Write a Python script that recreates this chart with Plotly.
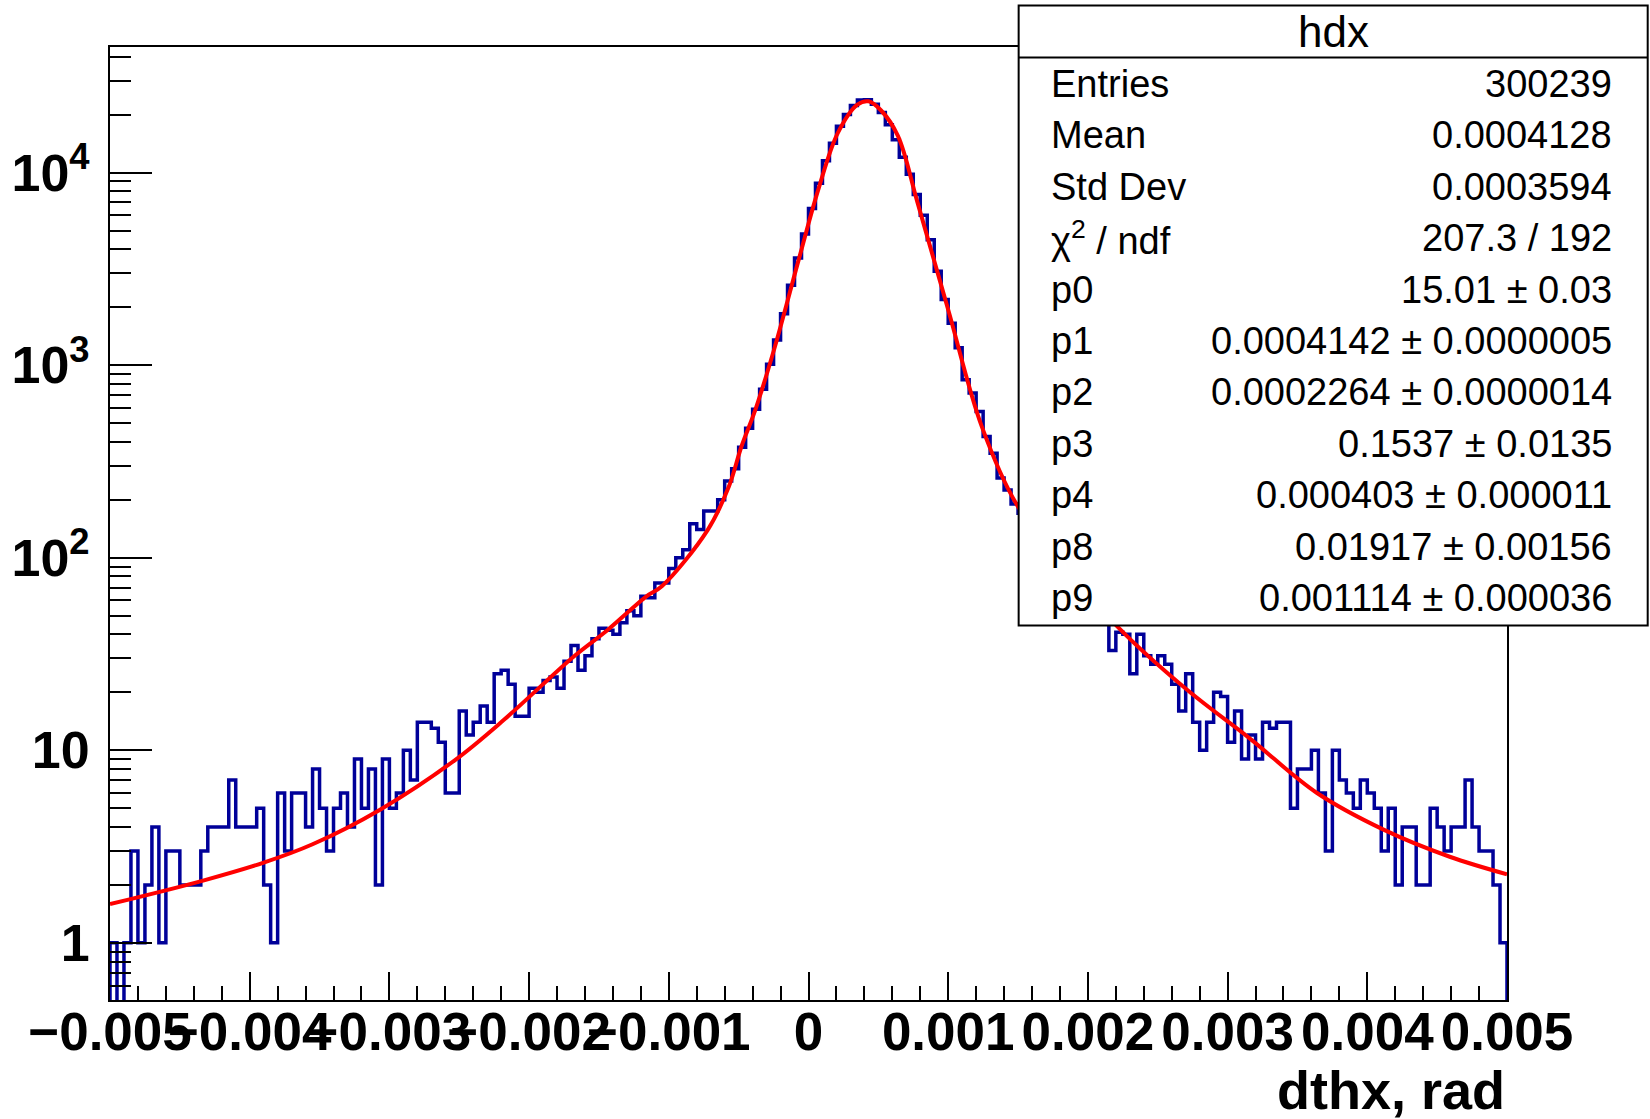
import numpy as np
import plotly.graph_objects as go

# ---------------- data ----------------
x_lo, x_hi, n_bins = -0.005, 0.005, 200

counts = [
    1, 0, 1, 3, 1, 2, 4, 1, 3, 3,
    2, 2, 2, 3, 4, 4, 4, 7, 4, 4,
    4, 5, 2, 1, 6, 3, 6, 6, 4, 8,
    5, 3, 5, 6, 4, 9, 5, 8, 2, 9,
    5, 6, 10, 7, 14, 14, 13, 11, 6, 6,
    16, 12, 14, 17, 14, 25, 26, 22, 15, 15,
    21, 20, 23, 24, 21, 29, 35, 26, 31, 38,
    43, 42, 40, 46, 53, 50, 63, 62, 74, 74,
    88, 100, 110, 150, 140, 175, 175, 200, 250, 290,
    375, 470, 590, 750, 1010, 1350, 1850, 2600, 3600, 4800,
    6500, 8800, 11500, 14200, 17400, 20000, 22300, 23800, 23900, 22600,
    20500, 17700, 14800, 12000, 9800, 7700, 6000, 4480, 3070, 2190,
    1650, 1230, 840, 716, 575, 426, 349, 259, 225, 190,
    170, 150, 135, 120, 108, 97, 88, 80, 72, 65,
    58, 52, 47, 33, 41, 40, 25, 40, 31, 28,
    31, 28, 22, 16, 25, 14, 10, 14, 20, 19,
    11, 16, 9, 12, 9, 14, 13, 14, 14, 5,
    8, 8, 10, 6, 3, 10, 7, 6, 5, 7,
    6, 5, 3, 5, 2, 4, 4, 2, 2, 5,
    4, 3, 4, 4, 7, 4, 3, 3, 2, 1,
]

fit_x = [-0.005, -0.00434, -0.0039, -0.00355, -0.00307, -0.00253, -0.00218,
         -0.00168, -0.00144, -0.00116, -0.00105, -0.00072, -0.00057, -0.00048,
         -0.00038, -0.00024, -0.00007, 0.00007, 0.00021, 0.00035, 0.00043,
         0.00052, 0.00064, 0.00078, 0.00100, 0.00124, 0.00150, 0.00185,
         0.00221, 0.00271, 0.00316, 0.00364, 0.00412, 0.00459, 0.005]
fit_y = [1.59, 2.1, 2.61, 3.25, 4.9, 8.9, 14.4,
         30.7, 42, 63, 71, 140, 234, 378,
         587, 1250, 3530, 8150, 16070, 22540, 23440,
         21000, 15500, 7000, 1940, 481, 184, 89,
         44, 20.6, 11.5, 6.0, 3.86, 2.8, 2.27]

x_tickvals = [-0.005, -0.004, -0.003, -0.002, -0.001, 0, 0.001, 0.002, 0.003, 0.004, 0.005]
x_ticktext = ["\u22120.005", "\u22120.004", "\u22120.003", "\u22120.002", "\u22120.001", "0",
              "0.001", "0.002", "0.003", "0.004", "0.005"]
y_tickvals = [1, 10, 100, 1000, 10000]
y_ticktext = ["1", "10", "10<sup>2</sup>", "10<sup>3</sup>", "10<sup>4</sup>"]

stat_title = "hdx"
stat_names = ["Entries", "Mean", "Std Dev", "\u03c7<sup>2</sup> / ndf", "p0", "p1",
              "p2", "p3", "p4", "p8", "p9"]
stat_values = ["300239", "0.0004128", "0.0003594", "207.3 / 192", "15.01 \u00b1 0.03",
               "0.0004142 \u00b1 0.0000005", "0.0002264 \u00b1 0.0000014",
               "0.1537 \u00b1 0.0135", "0.000403 \u00b1 0.000011",
               "0.01917 \u00b1 0.00156", "0.001114 \u00b1 0.000036"]
x_title = "dthx, rad"

# ---------------- geometry / style ----------------
W, H = 1650, 1119
L, R, T, B = 107, 143, 47, 119
PW, PH = W - L - R, H - T - B


def px(X):
    return (X - L) / PW


def py(Y):
    return (T + PH - Y) / PH


FONT = "Liberation Sans, Arial, Helvetica, sans-serif"
HIST_COLOR = "#000099"

edges = np.linspace(x_lo, x_hi, n_bins + 1)
c = np.array(counts, dtype=float)
floor = 1e-2
pc = np.where(c > 0, c, floor)
hx = np.concatenate([[edges[0]], edges[:-1], [edges[-1], edges[-1]]])
hy = np.concatenate([[floor], pc, [pc[-1], floor]])

fig = go.Figure()
fig.add_trace(go.Scatter(x=hx, y=hy, mode="lines", line=dict(color=HIST_COLOR, width=3.5, shape="hv"),
                         showlegend=False, hoverinfo="skip"))
fig.add_trace(go.Scatter(x=fit_x, y=fit_y, mode="lines",
                         line=dict(color="#ff0000", width=4, shape="spline", smoothing=1.0),
                         showlegend=False, hoverinfo="skip"))

y_minor = []
for k in range(-1, 5):
    for m in range(2, 10):
        v = m * 10 ** k
        if 0.5 <= v <= 44000:
            y_minor.append(v)

fig.update_layout(
    width=W, height=H,
    margin=dict(l=L, r=R, t=T, b=B, pad=0),
    paper_bgcolor="white", plot_bgcolor="white",
    showlegend=False,
    xaxis=dict(
        range=[x_lo, x_hi], showgrid=False, zeroline=False,
        showline=True, linecolor="black", linewidth=2, mirror=True,
        ticks="inside", ticklen=28, tickwidth=2, tickcolor="black",
        tickmode="array", tickvals=x_tickvals, ticktext=x_ticktext, tickangle=0,
        tickfont=dict(family=FONT, size=53, color="black", weight="bold"),
        ticklabelstandoff=-16,
        minor=dict(dtick=0.0002, tick0=0, ticks="inside", ticklen=14, tickwidth=2,
                   tickcolor="black", showgrid=False),
    ),
    yaxis=dict(
        type="log", range=[np.log10(0.505), np.log10(44870)], showgrid=False, zeroline=False,
        showline=True, linecolor="black", linewidth=2, mirror=True,
        ticks="inside", ticklen=42, tickwidth=2, tickcolor="black",
        tickmode="array", tickvals=y_tickvals, ticktext=y_ticktext,
        tickfont=dict(family=FONT, size=52, color="black", weight="bold"),
        ticklabelstandoff=8,
        minor=dict(tickmode="array", tickvals=y_minor, ticks="inside", ticklen=21,
                   tickwidth=2, tickcolor="black", showgrid=False),
    ),
)

# x-axis title (right aligned)
fig.add_annotation(text=x_title, xref="paper", yref="paper", x=1.0, y=py(1090),
                   xanchor="right", yanchor="middle", showarrow=False,
                   font=dict(family=FONT, size=54, color="black", weight="bold"))

# statistics box
bx0, bx1, by0, by1 = 1017.6, 1648, 5.5, 625.5
fig.add_shape(type="rect", xref="paper", yref="paper", x0=px(bx0), x1=px(bx1),
              y0=py(by1), y1=py(by0), fillcolor="white", line=dict(color="black", width=2),
              layer="above")
fig.add_shape(type="line", xref="paper", yref="paper", x0=px(bx0), x1=px(bx1),
              y0=py(57.5), y1=py(57.5), line=dict(color="black", width=2), layer="above")
fig.add_annotation(text=stat_title, xref="paper", yref="paper", x=px((bx0 + bx1) / 2), y=py(32),
                   xanchor="center", yanchor="middle", showarrow=False,
                   font=dict(family=FONT, size=44, color="black"))
for i, (nm, val) in enumerate(zip(stat_names, stat_values)):
    yy = py(84 + 51.4 * i)
    fig.add_annotation(text=nm, xref="paper", yref="paper", x=px(1048), y=yy,
                       xanchor="left", yanchor="middle", showarrow=False,
                       font=dict(family=FONT, size=38, color="black"))
    fig.add_annotation(text=val, xref="paper", yref="paper", x=px(1614), y=yy,
                       xanchor="right", yanchor="middle", showarrow=False,
                       font=dict(family=FONT, size=38, color="black"))

fig.write_html("out.html")
